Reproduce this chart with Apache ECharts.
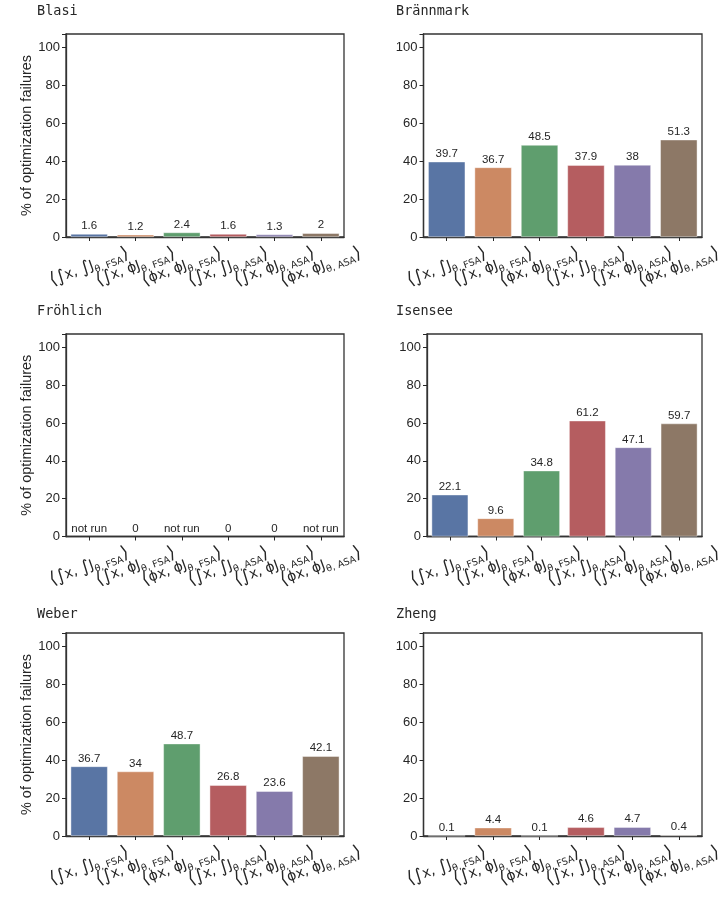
<!DOCTYPE html>
<html>
<head>
<meta charset="utf-8">
<script src="https://cdn.jsdelivr.net/npm/echarts@6/dist/echarts.min.js"></script>
<style>
html,body{margin:0;padding:0;background:#fff;}
#chart{width:727px;height:904px;}
</style>
</head>
<body>
<div id="chart"></div>
<script>
// ---- data ----
const panelNames = ['Blasi', 'Brännmark', 'Fröhlich', 'Isensee', 'Weber', 'Zheng'];
const catMain = ['∫x, ∫J', '∫x, ϕJ', 'ϕx, ϕJ', '∫x, ∫J', '∫x, ϕJ', 'ϕx, ϕJ'];
const catSub = ['θ, FSA', 'θ, FSA', 'θ, FSA', 'θ, ASA', 'θ, ASA', 'θ, ASA'];
const categories = catMain.map((m, i) => '⟨' + m + '_' + catSub[i] + '⟩');
const blasi = [1.6, 1.2, 2.4, 1.6, 1.3, 2];
const braennmark = [39.7, 36.7, 48.5, 37.9, 38, 51.3];
const froehlich = [null, 0, null, 0, 0, null]; // null = not run
const isensee = [22.1, 9.6, 34.8, 61.2, 47.1, 59.7];
const weber = [36.7, 34, 48.7, 26.8, 23.6, 42.1];
const zheng = [0.1, 4.4, 0.1, 4.6, 4.7, 0.4];
const panelValues = [blasi, braennmark, froehlich, isensee, weber, zheng];
const yTicks = [0, 20, 40, 60, 80, 100];
const yName = '% of optimization failures';
const notRunText = 'not run';
const barColors = ['#5975a4', '#cc8963', '#5f9e6e', '#b55d60', '#857aab', '#8d7866'];

// ---- layout ----
const layouts = [
  {left: 66, top: 34, width: 278, height: 203},
  {left: 423.5, top: 34, width: 278.5, height: 203},
  {left: 66, top: 334, width: 278, height: 202.5},
  {left: 427, top: 334, width: 275, height: 202.5},
  {left: 66, top: 633, width: 278, height: 203},
  {left: 423.5, top: 633, width: 278.5, height: 203}
];
const titlePos = [
  {left: 37, top: 4}, {left: 396, top: 4},
  {left: 37, top: 304}, {left: 396, top: 304},
  {left: 37, top: 607}, {left: 396, top: 607}
];

const textColor = '#262626';
const spineColor = '#333333';
const sansFont = '"Liberation Sans", Arial, sans-serif';
const mathFont = '"DejaVu Sans", sans-serif';

function mathLabel(i) {
  const main = '{m|' + catMain[i].replace(/∫/g, '}{i|∫}{m|') + '}';
  return '{b|⟨}' + main.replace(/\{m\|\}/g, '') + '{s|' + catSub[i] + '}{b|⟩}';
}

const grids = [], xAxes = [], yAxes = [], series = [], titles = [];
panelNames.forEach((name, p) => {
  grids.push(Object.assign({containLabel: false, show: true, borderColor: spineColor, borderWidth: 1.3, backgroundColor: '#fff'}, layouts[p]));
  titles.push({
    text: name, left: titlePos[p].left, top: titlePos[p].top, padding: 0,
    textStyle: {fontFamily: '"DejaVu Sans Mono", monospace', fontSize: 13.5, fontWeight: 'normal', color: textColor}
  });
  xAxes.push({
    type: 'category', gridIndex: p, data: categories,
    axisLine: {show: true, lineStyle: {color: spineColor, width: 1.3}},
    axisTick: {show: true, alignWithLabel: true, length: 4, lineStyle: {color: textColor}},
    axisLabel: {
      interval: 0, rotate: 20, align: 'center', verticalAlign: 'middle', margin: 30,
      color: textColor,
      formatter: (v, i) => mathLabel(i),
      rich: {
        b: {fontFamily: mathFont, fontSize: 18, lineHeight: 20, color: textColor},
        i: {fontFamily: mathFont, fontSize: 17, lineHeight: 20, color: textColor},
        m: {fontFamily: mathFont, fontSize: 14, lineHeight: 20, color: textColor},
        s: {fontFamily: mathFont, fontSize: 9.5, lineHeight: 11, verticalAlign: 'bottom', color: textColor}
      }
    }
  });
  const left = p % 2 === 0;
  yAxes.push({
    type: 'value', gridIndex: p, min: 0, max: 107, interval: 20,
    name: left ? yName : '', nameLocation: 'middle', nameGap: 32,
    nameTextStyle: {fontFamily: sansFont, fontSize: 14.5, color: textColor},
    splitLine: {show: false},
    axisLine: {show: true, lineStyle: {color: spineColor, width: 1.3}},
    axisTick: {show: true, length: 4, lineStyle: {color: textColor}},
    axisLabel: {
      fontFamily: sansFont, fontSize: 13, color: textColor, margin: 6,
      formatter: v => (yTicks.indexOf(v) >= 0 ? String(v) : '')
    }
  });
  const vals = panelValues[p];
  series.push({
    type: 'bar', xAxisIndex: p, yAxisIndex: p, barCategoryGap: '20%',
    data: vals.map((v, i) => ({
      value: v === null ? 0 : v,
      itemStyle: {color: barColors[i], borderColor: 'rgba(255,255,255,0.7)', borderWidth: v ? 0.6 : 0},
      label: {formatter: v === null ? notRunText : String(v)}
    })),
    label: {show: true, position: 'top', distance: 2, fontFamily: sansFont, fontSize: 11.5, color: textColor},
    animation: false
  });
});

const chart = echarts.init(document.getElementById('chart'), null, {renderer: 'canvas'});
chart.setOption({
  backgroundColor: '#ffffff',
  animation: false,
  title: titles,
  grid: grids,
  xAxis: xAxes,
  yAxis: yAxes,
  series: series
});
</script>
</body>
</html>
